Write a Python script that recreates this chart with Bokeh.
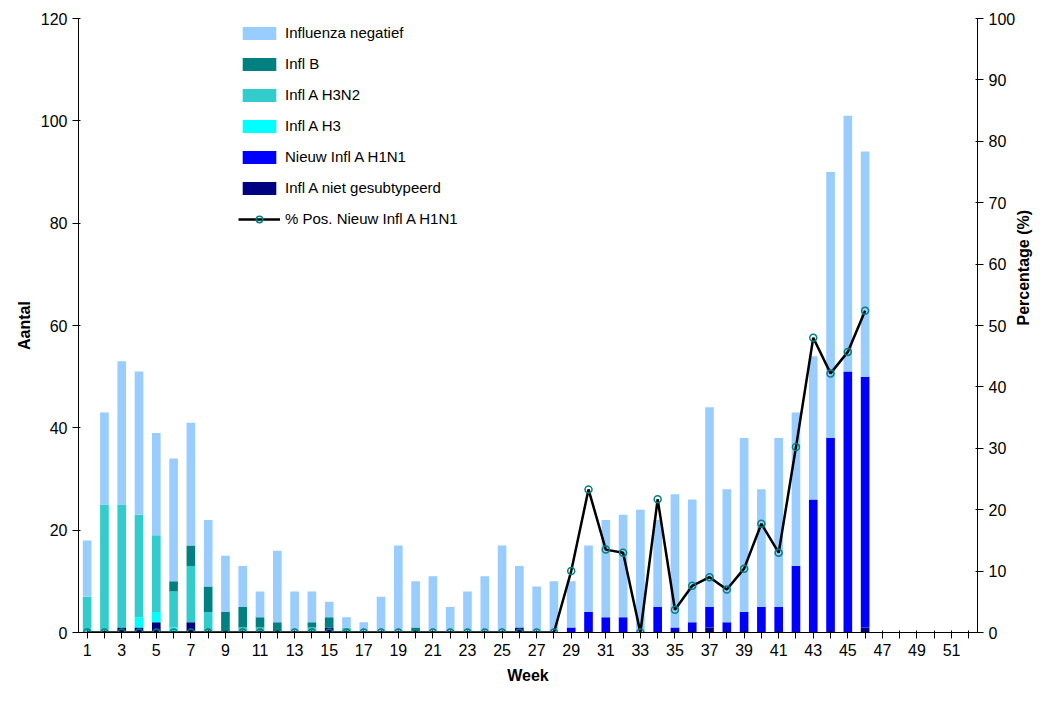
import math
from bokeh.plotting import figure
from bokeh.models import Range1d, LinearAxis, Legend, LegendItem, FixedTicker, ColumnDataSource
from bokeh.embed import file_html
from bokeh.resources import INLINE

weeks = list(range(1, 47))
niet = [0,0,1,1,2,0,2,0,0,0,0,0,0,0,1,0,0,0,0,0,0,0,0,0,0,1,0,0,0,0,0,0,0,0,0,0,1,0,0,0,0,0,0,0,0,1]
h1n1 = [0]*28 + [1,4,3,3,0,5,1,2,4,2,4,5,5,13,26,38,51,49]
h3 = [0,0,0,2,2,1,0,0,0,0,0,0,0,0,0,0,0,0,0,0,0,0,0,0,0,0,0,0,0,0,0,0,0,0,0,0,0,0,0,0,0,0,0,0,0,0]
h3n2 = [7,25,24,20,15,7,11,4,0,1,1,0,0,1,0,1] + [0]*30
inflb = [0,0,0,0,0,2,4,5,4,4,2,2,0,1,2,0,0,0,0,1] + [0]*26
total = [18,43,53,51,39,34,41,22,15,13,8,16,8,8,6,3,2,7,17,10,11,5,8,11,17,13,9,10,10,17,22,23,24,22,27,26,44,28,38,28,38,43,54,90,101,94]
pct = [0]*28 + [10,23.3,13.5,13,0,21.7,3.7,7.6,9,7,10.4,17.7,13,30.2,48,42.2,45.7,52.4]

neg = [t - a - b - c - d - e for t, a, b, c, d, e in zip(total, niet, h1n1, h3, h3n2, inflb)]
keys = ["niet", "h1n1", "h3", "h3n2", "inflb", "neg"]
names = ["Infl A niet gesubtypeerd", "Nieuw Infl A H1N1", "Infl A H3", "Infl A H3N2", "Infl B", "Influenza negatief"]
colors = ["#000080", "#0000FF", "#00FFFF", "#33CCCC", "#008080", "#99CCFF"]
src = ColumnDataSource(dict(week=weeks, niet=niet, h1n1=h1n1, h3=h3, h3n2=h3n2, inflb=inflb, neg=neg, pct=pct))

p = figure(width=1043, height=686, output_backend="svg", toolbar_location=None,
           x_range=Range1d(0.5, 52.5), y_range=Range1d(0, 120), min_border_left=78,
           min_border_right=65, min_border_top=18, min_border_bottom=54)
p.grid.visible = False
p.outline_line_color = None
font = "Liberation Sans"
rs = p.vbar_stack(keys, x="week", width=0.5, source=src, color=colors, line_color=None)

p.extra_y_ranges = {"pct": Range1d(0, 100)}
ax2 = LinearAxis(y_range_name="pct", axis_label="Percentage (%)")
p.add_layout(ax2, "right")
ln = p.line("week", "pct", source=src, y_range_name="pct", line_color="black", line_width=2.5)
mk = p.scatter("week", "pct", source=src, y_range_name="pct", size=7, fill_color=None, line_color="#008080", line_width=1.5)

p.xaxis.ticker = FixedTicker(ticks=list(range(1, 53)))
p.xaxis.major_label_overrides = {i: (str(i) if i % 2 == 1 else "") for i in range(1, 53)}
p.yaxis[0].ticker = FixedTicker(ticks=list(range(0, 121, 20)))
ax2.ticker = FixedTicker(ticks=list(range(0, 101, 10)))
ax2.axis_label_orientation = math.pi / 2
p.xaxis.axis_label = "Week"
p.xaxis.axis_label_standoff = 8
p.yaxis[0].axis_label = "Aantal"
for ax in [p.xaxis[0], p.yaxis[0], ax2]:
    ax.major_label_text_font = font
    ax.major_label_text_font_size = "16px"
    ax.axis_label_text_font = font
    ax.axis_label_text_font_size = "16px"
    ax.axis_label_text_font_style = "bold"
    ax.axis_label_text_color = "black"
    ax.axis_line_color = "black"
    ax.major_tick_line_color = "black"
    ax.minor_tick_line_color = None
    ax.major_label_text_color = "black"

items = [LegendItem(label=names[i], renderers=[rs[i]]) for i in range(5, -1, -1)]
items.append(LegendItem(label="% Pos. Nieuw Infl A H1N1", renderers=[ln, mk]))
leg = Legend(items=items, location=(160, 405), label_text_font=font, label_text_font_size="15px",
             label_text_color="black", border_line_color=None, background_fill_alpha=0,
             spacing=14, glyph_width=42, glyph_height=16, padding=2)
p.add_layout(leg, "center")

open("out.html", "w").write(file_html(p, INLINE))
